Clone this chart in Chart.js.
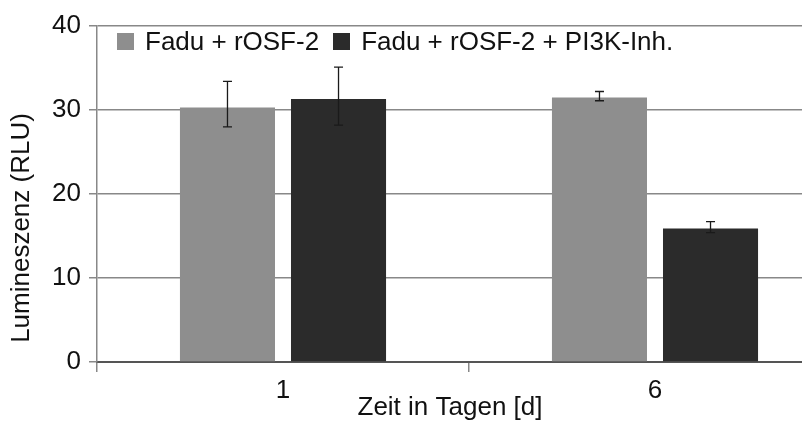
<!DOCTYPE html>
<html>
<head>
<meta charset="utf-8">
<script src="https://cdn.jsdelivr.net/npm/chart.js@4.4.1/dist/chart.umd.min.js"></script>
<style>
  html, body { margin: 0; padding: 0; background: #fff; }
  #wrap { position: relative; width: 802px; height: 421px; overflow: hidden; }
  #chart { display: block; }
  #legend {
    position: absolute; left: 117px; top: 26px;
    display: flex; font: 26px "Liberation Sans", Arial, sans-serif; color: #111;
  }
  #legend .item { display: flex; align-items: center; margin-right: 14px; line-height: 30px; }
  #legend .box { width: 17px; height: 17px; margin-right: 11px; }
</style>
</head>
<body>
<div id="wrap">
  <canvas id="chart" width="842" height="421"></canvas>
  <div id="legend"></div>
</div>
<script>
const categories = ['1', '6'];
const seriesNames = ['Fadu + rOSF-2', 'Fadu + rOSF-2 + PI3K-Inh.'];
const seriesColors = ['#8e8e8e', '#2b2b2b'];
const rosfValues = [30.3, 31.5];
const rosfErrLow = [28.0, 31.1];
const rosfErrHigh = [33.4, 32.2];
const inhValues = [31.3, 15.9];
const inhErrLow = [28.2, 15.4];
const inhErrHigh = [35.1, 16.7];
const yTicks = [0, 10, 20, 30, 40];
const xTitle = 'Zeit in Tagen [d]';
const yTitle = 'Lumineszenz (RLU)';

const FONT = '"Liberation Sans", Arial, sans-serif';

// error bars drawn from low/high arrays stored on each dataset
const errorBars = {
  id: 'errorBars',
  afterDatasetsDraw(chart) {
    const ctx = chart.ctx;
    const y = chart.scales.y;
    chart.data.datasets.forEach((ds, di) => {
      const meta = chart.getDatasetMeta(di);
      meta.data.forEach((bar, i) => {
        const top = y.getPixelForValue(ds.errHigh[i]);
        const bot = y.getPixelForValue(ds.errLow[i]);
        ctx.save();
        ctx.strokeStyle = '#1a1a1a';
        ctx.lineWidth = 1.3;
        ctx.beginPath();
        ctx.moveTo(bar.x, top);
        ctx.lineTo(bar.x, bot);
        ctx.moveTo(bar.x - 4.5, top);
        ctx.lineTo(bar.x + 4.5, top);
        ctx.moveTo(bar.x - 4.5, bot);
        ctx.lineTo(bar.x + 4.5, bot);
        ctx.stroke();
        ctx.restore();
      });
    });
  },
};

// axis titles, placed like the original (not centred on the plot area)
const axisTitles = {
  id: 'axisTitles',
  afterDraw(chart) {
    const ctx = chart.ctx;
    const area = chart.chartArea;
    ctx.save();
    ctx.fillStyle = '#111';
    ctx.font = '26px ' + FONT;
    ctx.textAlign = 'center';
    ctx.textBaseline = 'middle';
    ctx.fillText(xTitle, area.left + 353, area.bottom + 46);
    ctx.translate(area.left - 75, area.top + 202);
    ctx.rotate(-Math.PI / 2);
    ctx.fillText(yTitle, 0, 0);
    ctx.restore();
  },
};

const chart = new Chart(document.getElementById('chart'), {
  type: 'bar',
  data: {
    labels: categories,
    datasets: [
      {
        label: seriesNames[0],
        data: rosfValues,
        errLow: rosfErrLow,
        errHigh: rosfErrHigh,
        backgroundColor: seriesColors[0],
      },
      {
        label: seriesNames[1],
        data: inhValues,
        errLow: inhErrLow,
        errHigh: inhErrHigh,
        backgroundColor: seriesColors[1],
      },
    ],
  },
  options: {
    responsive: false,
    animation: false,
    events: [],
    categoryPercentage: 0.597,
    barPercentage: 0.856,
    layout: {
      padding: { left: 0, top: 26, right: 1, bottom: 0 },
    },
    plugins: {
      legend: { display: false },
      tooltip: { enabled: false },
    },
    scales: {
      x: {
        offset: true,
        grid: {
          offset: true,
          drawOnChartArea: false,
          drawTicks: true,
          tickLength: 10,
          color: '#888',
          lineWidth: 1.5,
        },
        border: { color: '#555', width: 2 },
        ticks: {
          color: '#111',
          padding: 3,
          font: { family: FONT, size: 26 },
        },
        afterFit(scale) {
          scale.height = 59;
        },
      },
      y: {
        min: 0,
        max: 40,
        afterBuildTicks(scale) {
          scale.ticks = yTicks.map((v) => ({ value: v }));
        },
        grid: {
          color: '#888',
          lineWidth: 1.5,
          tickLength: 8,
        },
        border: { color: '#888', width: 1.5 },
        ticks: {
          color: '#111',
          padding: 8,
          font: { family: FONT, size: 26 },
        },
        afterFit(scale) {
          scale.width = 97;
        },
      },
    },
  },
  plugins: [errorBars, axisTitles],
});

// legend drawn as HTML over the plot, built from the datasets
const legend = document.getElementById('legend');
chart.data.datasets.forEach((ds) => {
  const item = document.createElement('div');
  item.className = 'item';
  const box = document.createElement('span');
  box.className = 'box';
  box.style.background = ds.backgroundColor;
  const text = document.createElement('span');
  text.textContent = ds.label;
  item.appendChild(box);
  item.appendChild(text);
  legend.appendChild(item);
});
</script>
</body>
</html>
